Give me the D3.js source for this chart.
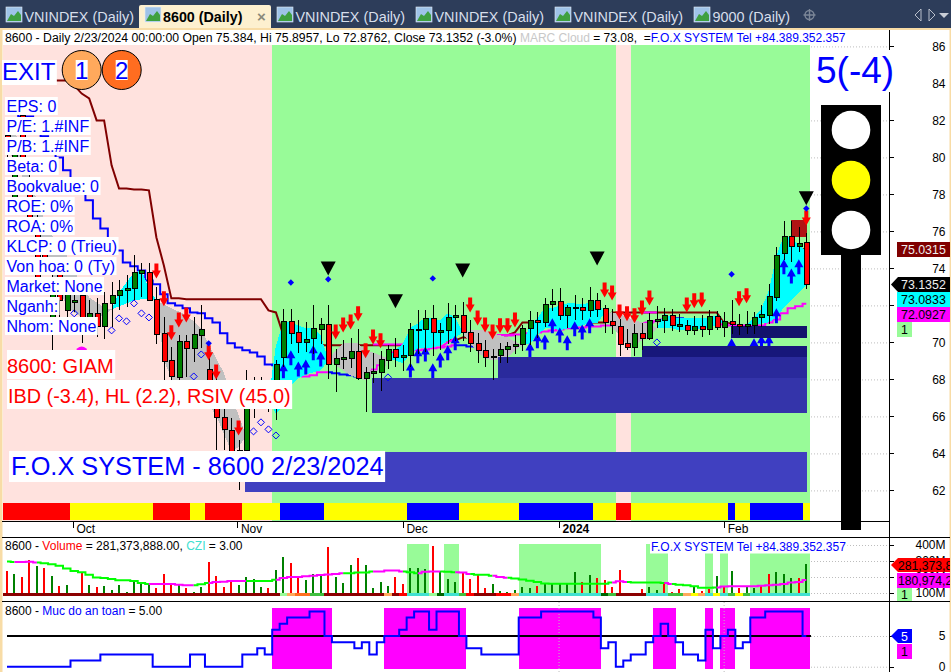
<!DOCTYPE html>
<html><head><meta charset="utf-8">
<script src="https://cdn.jsdelivr.net/npm/d3@7"></script>
<style>html,body{margin:0;padding:0;background:#fff;overflow:hidden}svg{display:block;font-family:"Liberation Sans",Arial,sans-serif}</style>
</head><body><svg id="c" width="951" height="672"></svg>
<script>
const expand = runs => runs.flatMap(([n, k]) => Array(n).fill(k));

// ---------- price series, one value per trading bar ----------
const opens = [81.19,77.68,82.27,78.87,76.16,74.86,71.35,73.78,71.73,72.16,72.54,70.81,71.57,70.86,72.11,72.54,72.81,72.92,73.73,73.78,72.33,70.49,69.03,68.11,70.05,69.68,70.38,68.54,67.95,65.95,65.24,64.11,64.16,67.68,67.41,67.68,67.14,
69.21,71.13,70.52,70.02,70.20,70.72,70.95,68.79,69.10,69.15,69.50,68.04,68.34,68.40,69.04,69.60,69.17,69.28,70.65,70.68,71.31,70.52,70.63,71.37,71.44,70.52,69.93,69.55,69.17,69.28,69.60,69.76,69.87,70.74,71.19,71.05,72.07,72.22,71.48,71.84,71.89,71.75,72.25,71.82,71.13,70.86,69.93,69.75,70.49,70.23,71.13,71.21,71.46,70.88,70.92,70.67,70.87,70.72,71.41,70.83,71.14,70.97,70.85,70.94,71.32,71.48,72.45,74.83,75.73,75.21,75.384];
const closes = [80.38,80.38,79.84,76.70,73.35,74.32,73.08,72.27,72.60,72.27,71.35,71.57,70.86,72.11,72.54,72.81,72.92,73.78,73.89,72.27,70.43,68.97,68.16,70.05,69.68,70.43,70.70,67.41,65.95,65.30,64.11,64.16,67.95,67.14,67.95,67.14,68.81,
71.13,70.50,70.02,70.16,70.74,70.95,68.79,69.12,69.17,69.50,68.04,68.36,68.41,69.06,69.60,69.17,69.28,70.68,70.68,71.31,70.52,70.63,71.37,71.44,70.52,69.93,69.55,69.17,69.26,69.60,69.76,69.87,70.74,71.19,71.08,72.06,72.22,71.48,71.89,71.89,71.75,72.25,71.80,71.08,70.94,69.91,69.75,70.49,70.23,71.19,71.24,71.46,70.94,70.97,70.67,70.85,70.72,71.41,70.83,71.12,70.96,70.85,70.97,71.35,71.52,72.49,74.70,75.73,75.21,75.35,73.1352];
const highs = [81.73,80.92,82.65,79.57,77.14,75.51,74.32,74.32,73.08,72.70,73.08,72.27,72.38,72.70,73.24,73.35,73.62,74.70,74.27,74.27,72.97,71.35,69.73,70.38,70.38,71.35,72.00,69.73,68.70,66.60,65.89,64.70,68.49,68.11,68.11,67.95,69.03,
71.82,71.82,71.22,71.10,72.03,71.33,72.00,69.66,70.11,70.25,70.70,68.67,69.44,69.53,69.84,70.25,69.84,71.06,71.73,71.73,72.03,71.04,72.14,72.03,72.18,71.19,70.50,70.11,69.66,69.98,70.02,70.38,70.92,71.69,71.67,72.42,72.87,72.92,72.00,72.54,72.38,73.01,72.65,72.00,71.82,71.28,70.70,71.01,71.05,71.59,71.95,71.88,71.82,71.55,71.23,71.41,71.46,71.77,71.68,71.64,72.27,71.52,71.68,71.64,72.04,73.14,75.14,76.54,76.54,76.24,75.8957];
const lows = [79.84,77.41,79.19,76.32,72.81,73.78,69.57,71.19,71.08,71.62,69.95,70.38,70.27,70.16,70.81,71.73,71.89,72.27,72.43,72.27,69.89,67.95,67.95,67.95,68.11,68.92,69.68,66.86,64.16,64.16,62.65,62.00,64.05,65.89,66.86,66.22,65.78,
68.67,69.93,69.42,69.48,69.39,69.89,68.00,67.32,68.54,68.61,67.95,66.23,67.80,67.37,68.58,68.67,68.45,68.67,69.39,69.48,69.24,69.60,69.89,70.07,70.07,69.48,68.88,68.67,67.98,68.88,68.88,69.39,69.51,69.87,70.25,70.83,71.69,71.19,70.78,71.19,71.19,71.37,71.37,70.50,70.43,69.24,69.57,69.24,69.57,70.11,70.79,70.50,70.59,70.56,70.38,70.38,70.29,70.41,70.65,70.29,70.47,70.38,70.47,70.43,70.83,71.01,72.24,74.43,74.34,74.88,72.8762];

// ---------- line series ----------
const stopLine = [84.16,84.16,84.16,84.16,84.16,84.16,84.16,84.16,84.16,83.89,83.45,83.19,82.0,82.0,79.57,78.32,78.32,78.27,78.27,78.22,75.67,74.16,72.38,72.38,72.33,72.33,72.33,72.33,72.33,72.33,72.33,72.33,72.33,72.33,72.33,71.73,71.62,70.38,
69.84,69.84,69.84,69.84,69.84,69.84,69.84,69.84,69.84,69.84,69.84,69.84,69.84,69.84,69.84,69.84,70.11,70.11,70.11,70.11,70.11,70.11,70.11,70.27,70.27,70.38,70.38,70.38,70.38,70.38,70.54,71.08,71.08,71.08,71.08,71.08,71.08,71.08,71.08,71.08,71.08,71.08,71.08,71.62,71.62,71.62,71.62,71.62,71.62,71.62,71.62,71.62,71.62,71.62,71.62,71.62,71.62,71.62,71.03,71.03,
null,null,null,null,null,null,null,null,75.0315,75.0315];
const mainLine = [82.97,82.65,82.21,82.21,81.73,81.14,80.38,80.0,79.30,78.65,78.22,77.68,76.70,76.16,75.62,74.97,74.32,74.11,73.89,73.35,73.14,72.60,72.11,72.0,71.84,71.62,71.57,71.30,71.08,70.49,69.95,69.73,69.57,69.46,69.24,68.81,68.76,68.60,
68.49,68.38,68.16,68.22,68.38,68.38,68.33,68.27,68.22,68.16,68.16,68.54,68.76,69.14,69.46,69.57,69.57,69.57,69.62,69.68,69.73,69.78,69.84,69.84,69.78,70.0,70.11,70.32,70.38,70.38,70.43,70.43,70.49,70.54,70.59,70.65,70.70,70.76,70.76,70.81,70.86,70.86,70.92,70.92,70.97,70.97,71.03,71.03,71.08,71.14,71.24,71.30,71.30,71.19,71.08,71.08,71.08,71.08,70.97,70.92,70.92,70.92,70.92,70.92,71.08,71.24,71.57,71.84,71.95,72.0927];
const mainRuns = [[38,"#0000ff"],[5,"#ff00ff"],[5,"#0000ff"],[12,"#ff00ff"],[3,"#0000ff"],[26,"#ff00ff"],[5,"#0000ff"],[14,"#ff00ff"]];
const trailPieces = [[[49,69.89],[53,69.89]],[[58,69.73],[59,70.0],[60,70.22]],[[65,70.38],[68,70.38]],[[79,71.62],[80,71.62]],[[85,71.62],[87,71.62]]];

// ---------- MARC cloud (fast and slow edge) ----------
const cloudFast = [80.38,79.84,79.03,77.41,76.06,74.43,73.62,72.81,72.0,71.62,71.35,71.19,71.30,71.51,71.78,72.70,73.24,73.78,73.89,72.92,72.27,69.03,68.06,67.30,66.97,66.86,66.76,66.60,66.06,65.08,64.16,64.32,64.97,null,null,66.86,69.84,71.08,71.08,70.92,70.76,70.76,70.38,69.03,68.76,68.49,68.22,68.06,67.95,68.76,68.92,69.14,69.57,69.95,70.81,71.03,71.35,71.30,71.19,71.57,71.35,70.54,69.95,69.46,69.14,69.03,69.03,69.19,69.57,69.84,70.92,71.30,71.89,71.84,72.0,72.11,72.11,72.05,72.16,72.27,71.57,70.81,70.38,69.84,69.84,70.11,70.27,70.76,71.57,71.35,71.30,71.30,71.30,71.30,71.35,71.46,71.08,null,null,70.97,71.35,71.84,72.81,74.70,75.78,75.62,75.24,74.97];
const cloudSlow = [81.73,81.46,80.38,79.03,77.68,76.60,75.78,75.24,74.70,73.89,73.08,72.43,72.16,71.89,71.78,71.95,72.11,72.27,72.33,72.33,72.27,72.05,71.84,71.67,71.46,71.14,70.76,69.89,69.14,68.38,67.14,66.06,64.97,null,null,66.86,66.16,66.60,67.68,68.06,68.27,68.38,68.49,69.03,69.57,69.95,69.95,69.95,69.57,69.46,69.30,69.14,69.03,68.86,69.41,69.68,69.68,69.73,69.84,70.11,70.27,70.54,70.65,70.65,70.65,70.49,70.38,70.27,70.05,69.84,69.95,70.38,70.76,70.76,70.65,70.76,70.81,70.92,71.03,71.03,71.57,71.62,71.57,71.35,71.19,71.08,71.03,70.76,70.81,70.76,70.65,70.65,70.65,70.76,70.81,70.92,71.08,null,null,70.97,70.92,71.03,71.08,71.35,71.89,72.27,72.70,73.0833];

// ---------- signals: bar index and price ----------
const sellBars = [20,21,22,23,24,27,28,31,44,45,46,47,48,49,50,62,63,64,65,66,67,68,80,81,82,83,84,85,86,91,92,93,98,99,107];
const sellPrices = [73.46,71.95,70.11,70.81,71.08,69.03,68.0,64.97,70.16,70.54,70.70,71.14,69.14,69.89,69.68,71.62,70.92,70.54,70.16,70.49,70.49,70.81,72.43,72.27,71.24,71.14,71.03,71.46,72.0,71.62,71.84,71.89,71.95,72.11,76.32];
const buyBars = [37,38,39,40,41,42,54,55,56,57,58,59,60,70,71,72,73,74,75,76,77,78,97,100,101,102,103,104,105,106];
const buyPrices = [68.87,69.57,68.97,69.08,69.84,69.51,68.92,69.68,69.78,68.87,69.46,69.84,70.38,70.0,70.49,70.43,71.30,70.81,70.38,71.14,70.97,71.30,70.22,70.22,70.38,70.38,71.84,74.49,74.0,74.49];
const triBars = [43,52,61,79,107];
const triPrices = [73.62,71.84,73.51,74.16,77.41];
const dotBars = [27,38,43,57,97,107];
const dotPrices = [69.95,73.24,73.41,73.46,73.68,77.24];
const hollowBars = [9,14,15,16,17,18,19,25,26,33,34,35,36,51,87];
const hollowPrices = [71.57,70.65,71.30,71.14,72.11,71.57,71.35,68.16,69.35,65.19,65.68,65.30,64.97,68.11,70.0];
const sunBar = 10, sunPrice = 69.46;

// ---------- price zones: first bar, last bar, low, high, colour ----------
const zones = [
 [31.9,107.1,61.89,64.05,"#4040c0"],
 [48.9,107.1,66.16,68.06,"#3434aa"],
 [65.7,107.1,68.06,69.19,"#2a2a9c"],
 [85.0,107.1,69.19,69.78,"#17177a"],
 [96.9,107.1,70.22,70.87,"#13136c"],
 [104.95,107.1,75.68,76.60,"#b01414"]
];

// ---------- states per bar ----------
const bgRuns = [[36,"#ffe2de"],[46,"#98fb98"],[2,"#ffe2de"],[24,"#98fb98"]];
const bandRuns = [[9,"#ff0000"],[11,"#ffff00"],[5,"#ff0000"],[2,"#ffff00"],[5,"#ff0000"],[5,"#ffff00"],[6,"#0000ff"],[11,"#ffff00"],[7,"#0000ff"],[8,"#ffff00"],[10,"#0000ff"],[3,"#ffff00"],[2,"#ff0000"],[13,"#ffff00"],[1,"#0000ff"],[2,"#ffff00"],[7,"#0000ff"],[1,"#ffff00"]];
const DR="#8b0000",PG="#98fb98",LO="#ffa95c",OR="#ff7020",GR="#40c040",TQ="#40e0d0",RD="#ff0000",DG="#006400",YL="#ffff00";
const ribbonRuns = [[37,DR],[1,PG],[1,LO],[2,OR],[2,GR],[8,DR],[1,LO],[1,DR],[1,RD],[3,TQ],[1,PG],[1,DG],[2,TQ],[1,GR],[1,RD],[3,DR],[2,RD],[1,LO],[11,TQ],[1,DG],[1,GR],[4,DR],[3,TQ],[2,GR],[1,LO],[1,YL],[1,LO],[1,TQ],[1,YL],[1,TQ],[1,GR],[1,YL],[1,GR],[8,TQ]];

// ---------- volume panel, millions ----------
const volumes = [239,220,202,307,270,255,208,146,152,96,230,152,140,146,121,152,109,177,158,158,133,220,158,150,133,109,140,295,208,140,171,152,202,189,140,133,245,326,288,195,183,220,220,388,202,164,276,319,276,133,171,146,202,158,257,257,
251,394,239,189,171,224,189,220,133,158,115,109,121,140,133,146,158,158,158,158,233,171,214,195,183,140,245,92,90,127,140,121,166,109,127,100,135,115,127,208,146,239,133,135,133,141,220,233,220,193,193,281.37];
const volSide = "rgrrgrgrggrgrggggggg rrrgrggrrrrggggrggrrgggrgggrggggrrgg grggg rrrrgggggg rgggggr grrrr gg rggrrrr gr rg rg rg grrgggrgr".replace(/ /g,"");
const volAvg = [297,293,293,295,290,286,280,270,253,237,230,214,197,193,187,179,179,175,162,156,156,156,156,152,148,148,154,162,168,171,175,175,175,175,175,175,183,193,200,200,204,208,212,216,218,224,224,228,228,235,235,241,241,235,230,224,
233,235,235,233,230,228,218,214,214,208,200,195,191,185,177,168,160,158,158,158,158,158,158,158,158,166,173,168,166,166,166,166,162,156,152,148,142,133,133,135,140,142,142,142,142,146,148,152,156,166,168,180.97];
const avgRuns = [[1,"#00ff00"],[3,"#ff00ff"],[15,"#00ff00"],[6,"#ff00ff"],[2,"#00ff00"],[5,"#ff00ff"],[4,"#00ff00"],[9,"#ff00ff"],[4,"#00ff00"],[4,"#ff00ff"],[2,"#00ff00"],[3,"#ff00ff"],[2,"#00ff00"],[2,"#ff00ff"],[3,"#00ff00"],[2,"#ff00ff"],[14,"#00ff00"],[2,"#ff00ff"],[5,"#00ff00"],[1,"#ff00ff"],[6,"#00ff00"],[13,"#ff00ff"]];
const volGreenBars = [54,55,56,59,60,69,70,71,72,73,74,75,76,77,78,79,86,87,88,94,96,100,101,102,103,104,105,106,107];

// ---------- safety panel ----------
const safety = [0,0,0,0,0,0,0,0,0,1,1,1,1,2,2,2,2,2,2,2,0,0,0,0,0,2,2,0,0,0,0,0,2,2,3,2,6,7,8,8,8,9,9,5,4,4,4,3,4,2,4,5,5,6,8,9,9,6,9,9,9,5,3,3,2,2,2,2,2,8,8,8,9,9,9,9,9,9,9,8,3,4,0,1,2,2,4,5,7,5,4,2,2,1,6,3,5,6,3,4,8,8,9,9,9,9,9,5];

// ---------- axes and texts ----------
const priceTicks = [62,64,66,68,70,72,74,76,78,80,82,84,86];
const volTicks = [100,200,300,400];
const volTickLabels = {100:"100M",200:"200M",300:"300M",400:"400M"};
const safetyTicks = [0,5];
const dateTickPos = [8.83,30.85,53.0,73.9,96.0];
const dateTickLabels = ["Oct","Nov","Dec","2024","Feb"];
const infoRows = ["EPS: 0","P/E: 1.#INF","P/B: 1.#INF","Beta: 0","Bookvalue: 0","ROE: 0%","ROA: 0%","KLCP: 0 (Trieu)","Von hoa: 0 (Ty)","Market: None","Nganh:","Nhom: None"];
const tabNames = [["VNINDEX (Daily)",6],["VNINDEX (Daily)",277],["VNINDEX (Daily)",416],["VNINDEX (Daily)",555],["9000 (Daily)",694]];

// ---------- scales ----------
const x = d3.scaleLinear().domain([0,107]).range([7,806.3]);
const y = d3.scaleLinear().domain([62,86]).range([490.4,46.4]);
const vy = d3.scaleLinear().domain([100,400]).range([593,545]);
const sy = d3.scaleLinear().domain([0,5]).range([666.7,636]);
const barW = x(1)-x(0);
const barL = i => i===0 ? 3 : Math.round(x(i)-barW/2);
const barSpan = i => barL(i+1)-barL(i);

const svg = d3.select("#c");
const rect = (g,x0,y0,w,h,f)=>g.append("rect").attr("x",x0).attr("y",y0).attr("width",w).attr("height",h).attr("fill",f);
const txt = (g,s,x0,y0,size,f,o={})=>g.append("text").attr("x",x0).attr("y",y0).attr("font-size",size).attr("fill",f).attr("font-weight",o.w||"normal").attr("text-anchor",o.a||"start").text(s);
const boxed = (s,x0,base,size,f,bx,bh,upper)=>{
  const g=svg.append("g"); const r=rect(g,bx,base-upper,10,bh,"#fff");
  const t=txt(g,s,x0,base,size,f); r.attr("width",t.node().getComputedTextLength()+(x0-bx)+1.5); return g;};

// page frame
rect(svg,0,0,951,28,"#2d3d5a");
rect(svg,0,28,951,2,"#f8dca6");
rect(svg,0,28,2.5,644,"#f8dca6");
rect(svg,949.5,28,1.5,644,"#f8dca6");

// tabs
const drawIcon=(ix)=>{const g=svg.append("g");
  rect(g,ix,7,16,15,"#9fc3e8").attr("stroke","#e8eef6").attr("stroke-width",.6);
  g.append("path").attr("d",d3.line()([[ix+1,21],[ix+5,14],[ix+8,16],[ix+12,11],[ix+15,15],[ix+15,21]])).attr("fill","#3fa03f");};
tabNames.forEach(([name,ix])=>{drawIcon(ix);txt(svg,name,ix+18.5,21.5,14.4,"#d7dfeb");});
svg.append("path").attr("d","M139,28V7Q139,5 141,5H269Q271,5 271,7V28Z").attr("fill","#fdf0cf");
drawIcon(145);
txt(svg,"8600 (Daily)",163,21.5,14.3,"#000",{w:"bold"});
txt(svg,"×",257,21.5,15,"#8a8a7a",{w:"bold"});
svg.append("circle").attr("cx",809.5).attr("cy",15).attr("r",4.5).attr("fill","none").attr("stroke","#7c8798").attr("stroke-width",1.4);
svg.append("path").attr("d","M809.5,9V21M803.5,15H815.5").attr("stroke","#7c8798").attr("stroke-width",1.4);
[["M921,9L915,15L921,21Z","none"],["M929,9L935,15L929,21Z","none"],["M939,13H949L944,18Z","#c8cdd6"]].forEach(([d,f])=>svg.append("path").attr("d",d).attr("fill",f).attr("stroke",f==="none"?"#b8bfcb":"none"));

// price panel background per bar
const bgG=svg.append("g").attr("shape-rendering","crispEdges");
expand(bgRuns).forEach((c,i)=>rect(bgG,barL(i),45,barSpan(i),476,c));
// right-hand dotted grid
const gridG=svg.append("g").attr("stroke","#bdbdbd").attr("stroke-dasharray","1 2");
priceTicks.forEach(t=>gridG.append("line").attr("x1",811).attr("x2",889).attr("y1",y(t)+.5).attr("y2",y(t)+.5));
volTicks.forEach(t=>gridG.append("line").attr("x1",811).attr("x2",889).attr("y1",vy(t)+.5).attr("y2",vy(t)+.5));
safetyTicks.forEach(t=>gridG.append("line").attr("x1",811).attr("x2",889).attr("y1",sy(t)+.5).attr("y2",sy(t)+.5));

// band
const bandG=svg.append("g").attr("shape-rendering","crispEdges");
expand(bandRuns).forEach((c,i)=>rect(bandG,barL(i),503,barSpan(i),16.5,c));

// stop + main lines
const lineGen = d3.line().defined(d=>d[1]!==null).x(d=>x(d[0])).y(d=>y(d[1]));
svg.append("path").attr("d",lineGen(stopLine.map((v,i)=>[i,v]))).attr("fill","none").attr("stroke","#800000").attr("stroke-width",2);
const stepGen = d3.line().x(d=>x(d[0])).y(d=>y(d[1])).curve(d3.curveStep);
function coloured(series,colors,gen,width){
  let s=0;
  for(let i=1;i<=series.length;i++){
    if(i===series.length||colors[i]!==colors[s]){
      const pts=series.slice(s,Math.min(i+1,series.length)).map((v,k)=>[s+k,v]);
      svg.append("path").attr("d",gen(pts)).attr("fill","none").attr("stroke",colors[s]).attr("stroke-width",width);
      s=i;
    }
  }
}
coloured(mainLine,expand(mainRuns),stepGen,2);
trailPieces.forEach(p=>svg.append("path").attr("d",d3.line().x(d=>x(d[0])).y(d=>y(d[1]))(p)).attr("fill","none").attr("stroke","#ff00ff").attr("stroke-width",2));

// cloud
const cloudG=svg.append("g").attr("shape-rendering","crispEdges");
for(let i=0;i<cloudFast.length-1;i++){
  if(cloudFast[i]===null||cloudFast[i+1]===null)continue;
  const up=(cloudFast[i]+cloudFast[i+1])>=(cloudSlow[i]+cloudSlow[i+1]);
  cloudG.append("path").attr("d",d3.line()([[x(i),y(cloudFast[i])],[x(i+1),y(cloudFast[i+1])],[x(i+1),y(cloudSlow[i+1])],[x(i),y(cloudSlow[i])]])+"Z").attr("fill",up?"#00ffff":"#c0c0c0");
}

// buy arrows
const arrowG=svg.append("g");
const upPath="M0,0L-4.5,8H-1.5V15H1.5V8H4.5Z", downPath="M0,0L-4.5,-8H-2V-15H2V-8H4.5Z";
buyBars.forEach((b,k)=>arrowG.append("path").attr("d",upPath).attr("fill","#0000ff").attr("transform",`translate(${x(b)},${y(buyPrices[k])})`));

// zones
zones.forEach(([a,b,lo,hi,c])=>rect(svg,x(a),y(hi),x(b)-x(a),y(lo)-y(hi),c).attr("shape-rendering","crispEdges"));
// hollow diamonds
hollowBars.forEach((b,k)=>svg.append("path").attr("d","M0,-3.5L3.5,0L0,3.5L-3.5,0Z").attr("fill","none").attr("stroke","#0000ff").attr("transform",`translate(${x(b)},${y(hollowPrices[k])})`));
svg.append("circle").attr("cx",x(sunBar)).attr("cy",y(sunPrice)).attr("r",6).attr("fill","#ff00ff");

// candles
const candleG=svg.append("g").attr("shape-rendering","crispEdges");
opens.forEach((o,i)=>{
  const c=closes[i], cx=Math.round(x(i))+.5;
  candleG.append("line").attr("x1",cx).attr("x2",cx).attr("y1",y(highs[i])).attr("y2",y(lows[i])).attr("stroke","#000");
  const t=y(Math.max(o,c)), b=y(Math.min(o,c));
  candleG.append("rect").attr("x",cx-2.5).attr("y",t).attr("width",5).attr("height",Math.max(b-t,1)).attr("fill",c>=o?"#008000":"#ff0000").attr("stroke","#000");
});

// sell arrows, triangles, dots
const topG=svg.append("g");
sellBars.forEach((b,k)=>topG.append("path").attr("d",downPath).attr("fill","#ff0000").attr("transform",`translate(${x(b)},${y(sellPrices[k])})`));
triBars.forEach((b,k)=>topG.append("path").attr("d","M0,0L-7.5,-14H7.5Z").attr("fill","#000").attr("transform",`translate(${x(b)},${y(triPrices[k])})`));
dotBars.forEach((b,k)=>topG.append("path").attr("d","M0,-3.2L3.2,0L0,3.2L-3.2,0Z").attr("fill","#0000ff").attr("transform",`translate(${x(b)},${y(dotPrices[k])})`));

// header
const head=svg.append("text").attr("x",5).attr("y",41.5).attr("font-size",12);
[["8600 - Daily 2/23/2024 00:00:00 Open 75.384, Hi 75.8957, Lo 72.8762, Close 73.1352 (-3.0%) ","#000",12.24],["MARC Cloud","#c8c8c8",12],[" = 73.08,  =","#000",12],["F.O.X SYSTEM Tel +84.389.352.357","#0000ff",12]].forEach(([s,f,z])=>head.append("tspan").attr("fill",f).attr("font-size",z).style("white-space","pre").text(s));

// overlay labels
boxed("EXIT",2,80,24,"#0000ff",2,25,20);
[[81.7,"1","#ffa95c"],[121.7,"2","#ff6d20"]].forEach(([cx,s,f])=>{
  svg.append("circle").attr("cx",cx).attr("cy",70).attr("r",19.5).attr("fill",f).attr("stroke","#000");
  rect(svg,cx-6,60,12,20,"#fff");
  txt(svg,s,cx,79,24,"#0000ff",{a:"middle"});
});
infoRows.forEach((s,k)=>boxed(s,6.5,112+20*k,16,"#0000ff",5,18,15));
boxed("8600: GIAM",7,372.7,20,"#ff0000",7,29,22.7);
boxed("IBD (-3.4), HL (2.2), RSIV (45.0)",8,402.7,19.85,"#ff0000",7,29,22.7);
boxed("F.O.X SYSTEM - 8600 2/23/2024",11,475,25.3,"#0000ff",9,31,24);

// traffic light
const tl=svg.append("g");
rect(tl,841,255,20,275,"#000");
rect(tl,821,105,60,150,"#000");
[[130,"#fff"],[180,"#ffff00"],[230,"#fff"]].forEach(([cy,f])=>tl.append("circle").attr("cx",851).attr("cy",cy).attr("r",19.3).attr("fill",f));

// frame lines
const frame=svg.append("g").attr("stroke","#000").attr("shape-rendering","crispEdges");
frame.append("line").attr("x1",889.5).attr("x2",889.5).attr("y1",30).attr("y2",672);
frame.append("line").attr("x1",2).attr("x2",889).attr("y1",521.5).attr("y2",521.5);
frame.append("line").attr("x1",2).attr("x2",950).attr("y1",537.5).attr("y2",537.5);
frame.append("line").attr("x1",2).attr("x2",950).attr("y1",601.5).attr("y2",601.5);

// price axis
const styleAxis=g=>{g.select(".domain").remove();g.selectAll("text").attr("x",56).attr("text-anchor","end").attr("font-size",12).attr("font-family","Liberation Sans").attr("fill","#000");g.selectAll("line").attr("stroke","#000").attr("shape-rendering","crispEdges");};
svg.append("g").attr("transform","translate(889.5,0)").call(d3.axisRight(y).tickValues(priceTicks).tickFormat(d3.format("d")).tickSize(4)).call(styleAxis);

// 5(-4) box sits over the axis line
rect(svg,811,50,83,42,"#fff");
txt(svg,"5(-4)",816,83,37,"#0000ff");

// date axis
const dateAxis=svg.append("g").attr("transform","translate(0,521.5)").call(d3.axisBottom(x).tickValues(dateTickPos).tickFormat((d,i)=>dateTickLabels[i]).tickSize(6));
dateAxis.select(".domain").remove();
dateAxis.selectAll("line").attr("stroke","#000").attr("shape-rendering","crispEdges");
dateAxis.selectAll("text").attr("text-anchor","start").attr("x",3).attr("y",3).attr("dy","8").attr("font-size",12).attr("font-family","Liberation Sans").attr("fill","#000").attr("font-weight",(d,i)=>dateTickLabels[i]==="2024"?"bold":"normal");

// price tags
const tag=(s,ty,f,tc,bx,h,ptr)=>{
  if(ptr) svg.append("path").attr("d",`M891,${ty+h/2}L${bx},${ty}V${ty+h}Z`).attr("fill",f);
  rect(svg,bx,ty,950-bx,h,f);
  txt(svg,s,901,ty+12,12.4,tc);
};
tag("75.0315",242,"#800000","#f0f0f0",897,15);
tag("73.1352",277,"#000","#f0f0f0",898,15,true);
tag("73.0833",292,"#00ffff","#000",897,15);
tag("72.0927",307,"#ff00ff","#000",897,15);
rect(svg,897,322,15,15,"#98fb98"); txt(svg,"1",901,334,12.4,"#000");

// volume panel
const volBase = 81;
const gBg=svg.append("g").attr("shape-rendering","crispEdges");
volGreenBars.forEach(b=>rect(gBg,barL(b),544,barSpan(b),52,"#98fb98"));
const volG=svg.append("g").attr("shape-rendering","crispEdges");
volumes.forEach((v,i)=>rect(volG,Math.round(x(i))-1,vy(v),2,vy(volBase)-vy(v),volSide[i]==="r"?"#ff0000":"#008000"));
expand(ribbonRuns).forEach((c,i)=>rect(volG,barL(i),593,barSpan(i),3,c));
const vStep=d3.line().x(d=>x(d[0])).y(d=>vy(d[1])).curve(d3.curveStep);
coloured(volAvg,expand(avgRuns),vStep,2);
const vt=svg.append("text").attr("x",5).attr("y",550).attr("font-size",12);
[["8600 - ","#000"],["Volume","#ff0000"],[" = 281,373,888.00, ","#000"],["CZI","#40e0d0"],[" = 3.00","#000"]].forEach(([s,f])=>vt.append("tspan").attr("fill",f).style("white-space","pre").text(s));
boxed("F.O.X SYSTEM Tel +84.389.352.357",651,551,12,"#0000ff",650,14,11.5);
svg.append("g").attr("transform","translate(889.5,0)").call(d3.axisRight(vy).tickValues(volTicks).tickFormat(d=>volTickLabels[d]).tickSize(4)).call(styleAxis);
svg.append("path").attr("d","M891,565L898,558H950V572H898Z").attr("fill","#ff0000");
txt(svg,"281,373,888",898,569.5,12.2,"#000");
rect(svg,897,573,53,15,"#ff00ff"); txt(svg,"180,974,208",898,585,12.2,"#000");
rect(svg,897,588,15,13,"#98fb98"); txt(svg,"1",901,599,12.4,"#000");
rect(svg,950,558,1,44,"#f8dca6");

// safety panel
const sBg=svg.append("g").attr("shape-rendering","crispEdges");
const sTop=sy(9.5), sBot=669;
safety.forEach((v,i)=>{ if(v>=5) rect(sBg,barL(i),sTop,barSpan(i),sBot-sTop,"#ff00ff"); });
[3,4].forEach(k=>svg.append("line").attr("x1",x(dateTickPos[k])).attr("x2",x(dateTickPos[k])).attr("y1",602).attr("y2",672).attr("stroke","#bdbdbd").attr("stroke-dasharray","1 2"));
svg.append("line").attr("x1",7).attr("x2",811).attr("y1",sy(5)).attr("y2",sy(5)).attr("stroke","#000").attr("stroke-width",2);
svg.append("path").attr("d",d3.line().x((d,i)=>x(i)).y(d=>sy(d)).curve(d3.curveStep)(safety)).attr("fill","none").attr("stroke","#0000ff").attr("stroke-width",2);
const st=svg.append("text").attr("x",5).attr("y",614.5).attr("font-size",12);
[["8600 - ","#000"],["Muc do an toan","#0000ff"],[" = 5.00","#000"]].forEach(([s,f])=>st.append("tspan").attr("fill",f).style("white-space","pre").text(s));
svg.append("g").attr("transform","translate(889.5,0)").call(d3.axisRight(sy).tickValues(safetyTicks).tickFormat(d3.format("d")).tickSize(4)).call(styleAxis);
svg.append("path").attr("d","M891,636L898,629H912V643H898Z").attr("fill","#0000ff");
txt(svg,"5",901,640.5,12.4,"#fff");
rect(svg,897,644,15,15,"#ff00ff"); txt(svg,"1",901,656,12.4,"#000");
</script></body></html>
